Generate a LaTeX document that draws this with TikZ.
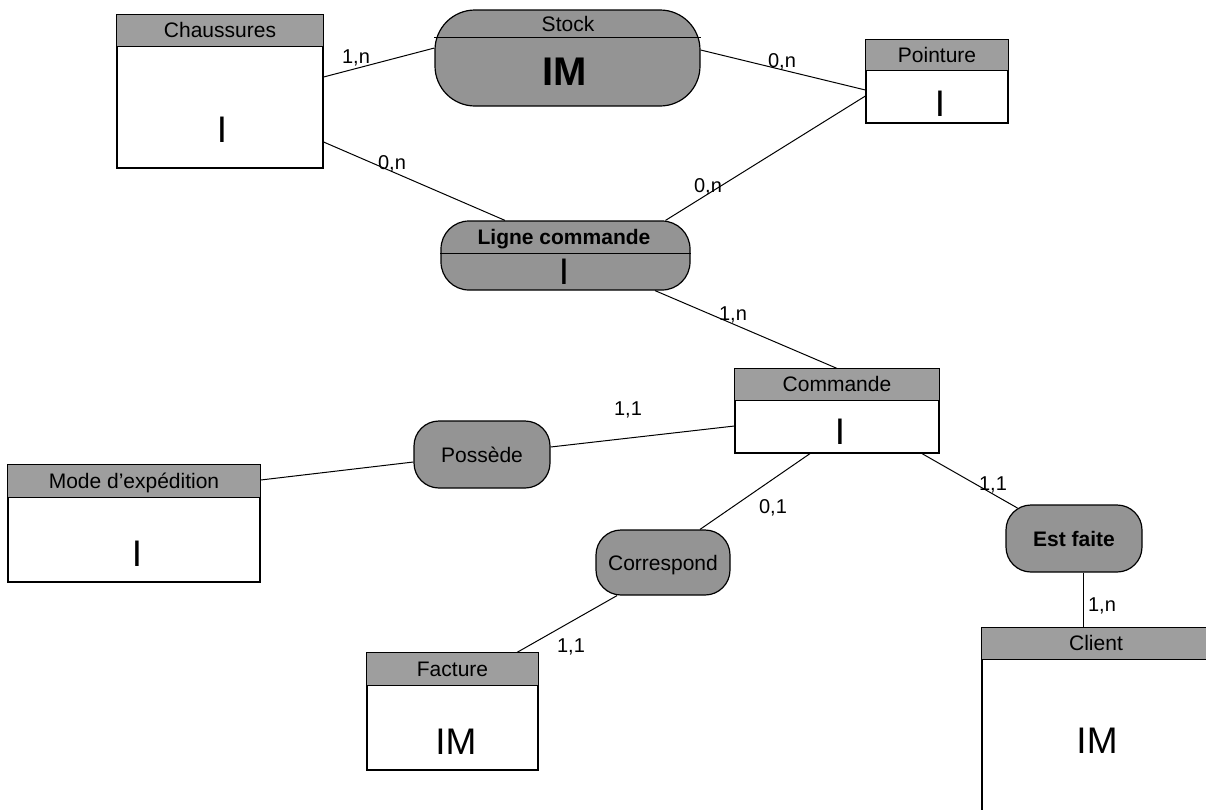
\documentclass[tikz,border=0pt]{standalone}
\usepackage{fontspec}
\setmainfont{Liberation Sans}
\usetikzlibrary{calc}

\tikzset{
  entite/.style={draw, line width=1.2pt, fill=white, inner sep=0pt},
  tete/.style={draw, line width=1.2pt, fill=black!38},
  assoc/.style={draw, line width=1.2pt, fill=black!42, rounded corners=#1, inner sep=0pt},
  assoc/.default=25pt,
  titre/.style={font=\fontsize{21}{21}\selectfont, inner sep=0pt, text height=15pt, text depth=0pt},
  gros/.style={font=\fontsize{37}{37}\selectfont, inner sep=0pt, text height=26.5pt, text depth=0pt},
  card/.style={font=\fontsize{20}{20}\selectfont, inner sep=0pt, text height=14.3pt, text depth=0pt},
  lien/.style={line width=1pt},
}

% 实体:名称, 中心, 宽, 高, 标题栏高, 标题
\newcommand{\entite}[6]{%
  \node[entite, minimum width=#3, minimum height=#4] (#1) at (#2) {};
  \draw[tete] (#1.north west) rectangle ($(#1.north east)+(0,#5)$);
  \node[titre] (#1-titre) at ($(#1.north)+(0,#5/2)$) {#6};
}

\begin{document}
\begin{tikzpicture}[x=1pt, y=-1pt]
  % 画布与原图同尺寸(单位:像素)
  \path[use as bounding box, clip] (0,0) rectangle (1206,809);

  % 实体
  \entite{chaus}{220,91.5}{206pt}{153pt}{32}{Chaussures}
  \entite{point}{937,81.5}{142pt}{83pt}{31}{Pointure}
  \entite{cmd}{837,411}{204pt}{84pt}{32}{Commande}
  \entite{mode}{134,523.5}{252pt}{117pt}{33}{Mode d'expédition}
  \entite{fact}{452.5,711.5}{171pt}{117pt}{33}{Facture}
  \entite{client}{1096,764}{228pt}{272pt}{32}{Client}

  \node[gros] (chaus-corps) at (222,129) {I};
  \node[gros] (point-corps) at (940,103) {I};
  \node[gros] (cmd-corps) at (840,431) {I};
  \node[gros] (mode-corps) at (137,553) {I};
  \node[gros] (fact-corps) at (456,741) {IM};
  \node[gros] (client-corps) at (1097,740) {IM};

  % 关联
  \node[assoc=40pt, minimum width=265pt, minimum height=96pt] (stock) at (567.5,58) {};
  \draw[line width=1.2pt] ($(stock.north west)+(0,28)$) -- ($(stock.north east)+(0,28)$);
  \node[titre] (stock-titre) at (568,24) {Stock};
  \node[gros, font=\fontsize{40}{40}\selectfont\bfseries] (stock-corps) at (565,72) {IM};

  \node[assoc=28pt, minimum width=249pt, minimum height=69pt] (ligne) at (565.5,255.5) {};
  \draw[line width=1.2pt] ($(ligne.north west)+(0,33)$) -- ($(ligne.north east)+(0,33)$);
  \node[titre, font=\fontsize{21}{21}\selectfont\bfseries] (ligne-titre) at (564,237) {Ligne commande};
  \node[gros] (ligne-corps) at (564,271) {I};

  \node[assoc, minimum width=136pt, minimum height=67pt] (poss) at (482,454.5) {};
  \node[titre] (poss-titre) at (poss) {Possède};
  \node[assoc, minimum width=134pt, minimum height=65pt] (corr) at (663,562.5) {};
  \node[titre] (corr-titre) at (corr) {Correspond};
  \node[assoc, minimum width=136pt, minimum height=67pt] (fait) at (1074,538.5) {};
  \node[titre, font=\fontsize{21}{21}\selectfont\bfseries] (fait-titre) at (fait) {Est faite};

  % 连线
  \draw[lien] ([yshift=14.5pt]chaus.east) -- ([yshift=10pt]stock.west);
  \draw[lien] ([yshift=8pt]stock.east) -- ([yshift=-8.5pt]point.west);
  \draw[lien] ([yshift=-50.5pt]chaus.east) -- ([xshift=-60.5pt]ligne.north);
  \draw[lien] ([yshift=-14.5pt]point.west) -- ([xshift=100pt]ligne.north);
  \draw[lien] ([xshift=89.5pt]ligne.south) -- (cmd.north);
  \draw[lien] ([yshift=7.5pt]poss.east) -- ([yshift=-15pt]cmd.west);
  \draw[lien] ([yshift=43.5pt]mode.east) -- ([yshift=-7.5pt]poss.west);
  \draw[lien] ([xshift=-27pt]cmd.south) -- ([xshift=37pt]corr.north);
  \draw[lien] ([xshift=85pt]cmd.south) -- ($(fait.north west)+(12,3.6)$);
  \draw[lien] ([xshift=-46pt]corr.south) -- ([xshift=64.5pt]fact.north);
  \draw[lien] ([xshift=9pt]fait.south) -- ([xshift=-13pt]client.north);

  % 基数
  \node[card] (c1) at (356,56) {1,n};
  \node[card] (c2) at (782,60) {0,n};
  \node[card] (c3) at (392,162) {0,n};
  \node[card] (c4) at (708,185) {0,n};
  \node[card] (c5) at (733,313) {1,n};
  \node[card] (c6) at (628,408) {1,1};
  \node[card] (c7) at (773,506) {0,1};
  \node[card] (c8) at (993,483) {1,1};
  \node[card] (c9) at (571,645) {1,1};
  \node[card] (c10) at (1102,604) {1,n};
\end{tikzpicture}
\end{document}
